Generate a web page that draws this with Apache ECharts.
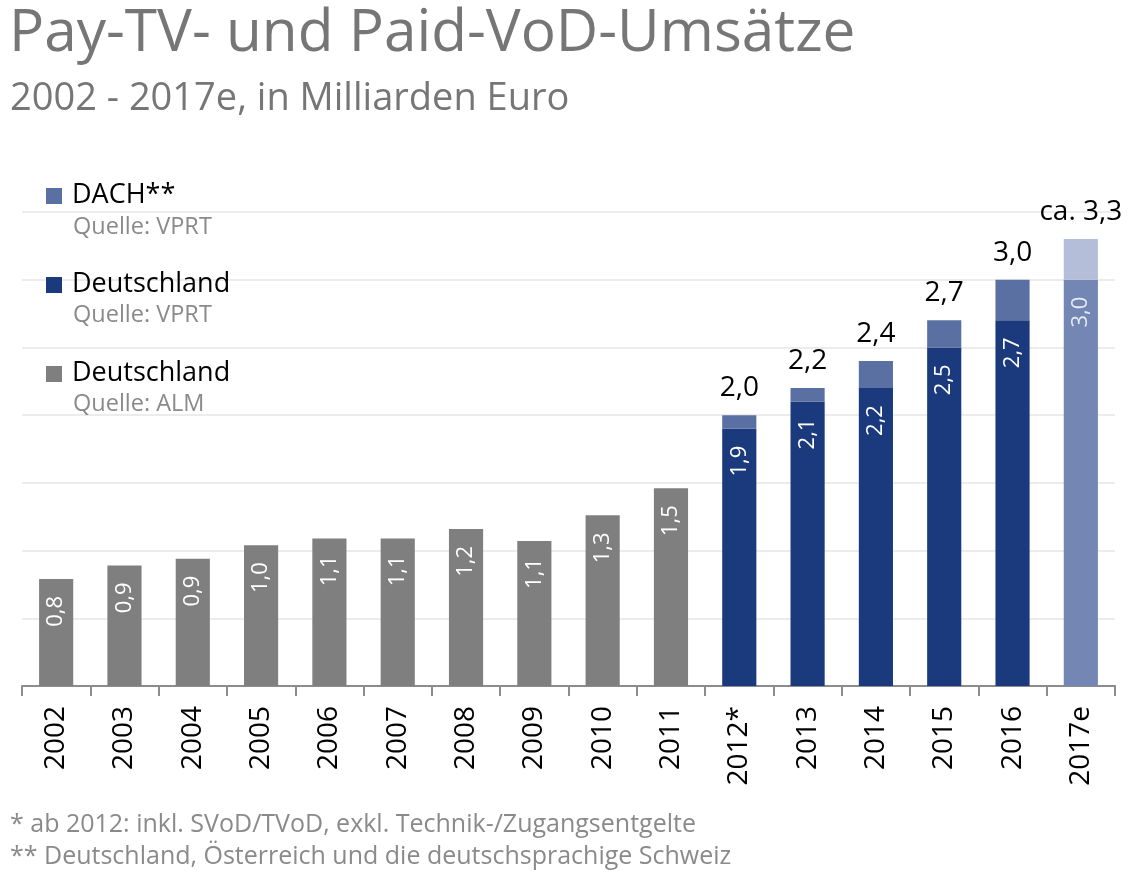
<!DOCTYPE html>
<html><head><meta charset="utf-8">
<script src="https://cdn.jsdelivr.net/npm/echarts@6/dist/echarts.min.js"></script>
<style>html,body{margin:0;padding:0;background:#fff}#c{width:1142px;height:882px}</style>
</head><body><div id="c"></div>
<script>
// ---- data ----
const categories = ['2002','2003','2004','2005','2006','2007','2008','2009','2010','2011','2012*','2013','2014','2015','2016','2017e'];
const deutschlandAlm = [0.79,0.89,0.94,1.04,1.09,1.09,1.16,1.07,1.26,1.46,null,null,null,null,null,null];
const deutschlandVprt = [null,null,null,null,null,null,null,null,null,null,1.9,2.1,2.2,2.5,2.7,3.0];
const dachVprt = [null,null,null,null,null,null,null,null,null,null,2.0,2.2,2.4,2.7,3.0,3.3];
const dachLabels = ['','','','','','','','','','','2,0','2,2','2,4','2,7','3,0','ca. 3,3'];
const estimateCategory = '2017e';

// ---- derived ----
const estIdx = categories.indexOf(estimateCategory);
const fmt = v => v.toFixed(1).replace('.', ',');
const FONT = 'Open Sans';
const C_GRAY = '#7f7f7f', C_DE = '#1b3a7d', C_DACH = '#5b70a2', C_DE_EST = '#7386b4', C_DACH_EST = '#b4bed8';

const deData = deutschlandVprt.map((v,i) => v == null ? null :
  (i === estIdx ? {value: v, itemStyle: {color: C_DE_EST}, label: {color: '#e6eaf3'}} : v));
const dachData = dachVprt.map((t,i) => {
  if (t == null) return null;
  const extra = +(t - deutschlandVprt[i]).toFixed(2);
  return i === estIdx ? {value: extra, itemStyle: {color: C_DACH_EST}} : extra;
});

const inLabel = {
  show: true, position: 'insideTop', rotate: 90, align: 'right', verticalAlign: 'middle',
  distance: 17, color: '#ffffff', fontFamily: FONT, fontSize: 22,
  formatter: p => p.value == null ? '' : fmt(p.value)
};

const chart = echarts.init(document.getElementById('c'));
chart.setOption({
  backgroundColor: '#ffffff',
  animation: false,
  grid: {left: 22, right: 27, top: 212, bottom: 196, containLabel: false},
  xAxis: {
    type: 'category', data: categories,
    axisLine: {lineStyle: {color: '#8c8c8c', width: 2}},
    axisTick: {show: true, length: 10, lineStyle: {color: '#8c8c8c', width: 2}},
    axisLabel: {rotate: 90, margin: 20, color: '#000000', fontFamily: FONT, fontSize: 28}
  },
  yAxis: {
    type: 'value', min: 0, max: 3.5, interval: 0.5,
    axisLabel: {show: false}, axisLine: {show: false}, axisTick: {show: false},
    splitLine: {lineStyle: {color: '#ececec', width: 2}}
  },
  series: [
    {name: 'Deutschland (ALM)', type: 'bar', stack: 'a', barWidth: '50%', data: deutschlandAlm,
     itemStyle: {color: C_GRAY}, label: inLabel},
    {name: 'Deutschland (VPRT)', type: 'bar', stack: 'a', barWidth: '50%', data: deData,
     itemStyle: {color: C_DE}, label: inLabel},
    {name: 'DACH (VPRT)', type: 'bar', stack: 'a', barWidth: '50%', data: dachData,
     itemStyle: {color: C_DACH},
     label: {show: true, position: 'top', distance: 13, color: '#000000', fontFamily: FONT, fontSize: 28,
       formatter: p => dachLabels[p.dataIndex]}}
  ],
  graphic: [
    {type: 'text', z: 100, left: 9, top: 5, style: {text: 'Pay-TV- und Paid-VoD-Umsätze', fill: '#767676', font: '58.5px "Open Sans"'}},
    {type: 'text', z: 100, left: 10, top: 80, style: {text: '2002 - 2017e, in Milliarden Euro', fill: '#767676', font: '38px "Open Sans"'}},
    // legend
    {type: 'rect', z: 100, shape: {x: 46, y: 188, width: 16, height: 16}, style: {fill: C_DACH}},
    {type: 'text', z: 100, x: 72, y: 182, style: {text: 'DACH**', fill: '#000', font: '27px "Open Sans"'}},
    {type: 'text', z: 100, x: 73, y: 215, style: {text: 'Quelle: VPRT', fill: '#8a8a8a', font: '23.5px "Open Sans"'}},
    {type: 'rect', z: 100, shape: {x: 46, y: 277, width: 16, height: 16}, style: {fill: C_DE}},
    {type: 'text', z: 100, x: 72, y: 271, style: {text: 'Deutschland', fill: '#000', font: '27px "Open Sans"'}},
    {type: 'text', z: 100, x: 73, y: 303, style: {text: 'Quelle: VPRT', fill: '#8a8a8a', font: '23.5px "Open Sans"'}},
    {type: 'rect', z: 100, shape: {x: 46, y: 366, width: 16, height: 16}, style: {fill: C_GRAY}},
    {type: 'text', z: 100, x: 72, y: 360, style: {text: 'Deutschland', fill: '#000', font: '27px "Open Sans"'}},
    {type: 'text', z: 100, x: 73, y: 392, style: {text: 'Quelle: ALM', fill: '#8a8a8a', font: '23.5px "Open Sans"'}},
    // footnotes
    {type: 'text', z: 100, x: 10, y: 812, style: {text: '* ab 2012: inkl. SVoD/TVoD, exkl. Technik-/Zugangsentgelte', fill: '#8a8a8a', font: '25px "Open Sans"'}},
    {type: 'text', z: 100, x: 10, y: 844, style: {text: '** Deutschland, Österreich und die deutschsprachige Schweiz', fill: '#8a8a8a', font: '25px "Open Sans"'}}
  ]
});
</script></body></html>
